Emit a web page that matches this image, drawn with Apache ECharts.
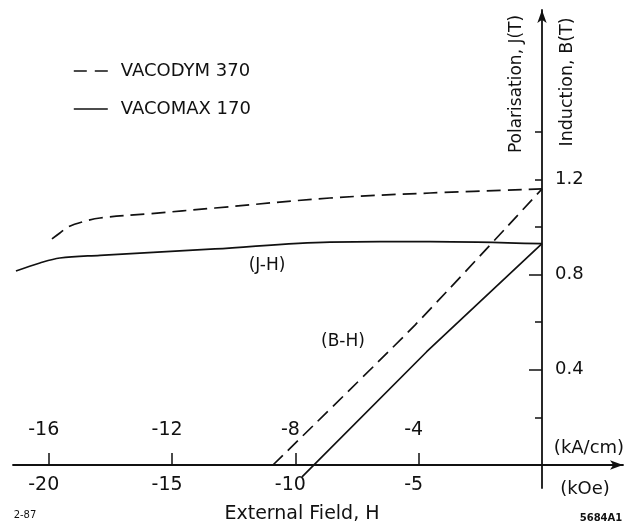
<!DOCTYPE html>
<html><head><meta charset="utf-8">
<script src="https://cdn.jsdelivr.net/npm/echarts@6/dist/echarts.min.js"></script>
<style>html,body{margin:0;padding:0;background:#fff}#c{width:636px;height:525px}</style>
</head><body><div id="c"></div>
<script>
// ---- data (H in kOe, J/B in T) ----
const vacodymJH_H = [-19.87, -19.55, -19.22, -18.65, -17.92, -15.90, -13.26, -8.60, -4.54, 0];
const vacodymJH_J = [0.950, 0.975, 1.000, 1.021, 1.038, 1.056, 1.080, 1.122, 1.143, 1.160];
const vacodymBH_H = [-10.91, -5.15, 0];
const vacodymBH_B = [0, 0.588, 1.160];
const vacomaxJH_H = [-21.33, -20.36, -19.55, -17.92, -13.26, -8.60, -4.54, 0];
const vacomaxJH_J = [0.815, 0.849, 0.870, 0.881, 0.908, 0.937, 0.939, 0.930];
const vacomaxBH_H = [-9.73, -4.675, 0];
const vacomaxBH_B = [-0.050, 0.476, 0.930];

const kOeTicks = [-20, -15, -10, -5];
const kOeLabels = ['-20', '-15', '-10', '-5'];
const kAcmLabels = ['-16', '-12', '-8', '-4'];
const yMajorTicks = [0.4, 0.8];
const yMinorTicks = [0.2, 0.6, 1.0, 1.2, 1.4];
const yLabelValues = [0.4, 0.8, 1.2];

const xMin = -21.45, xMax = 3.285, yMin = -0.0966, yMax = 1.912;
const W = 636, H = 525, gridL = 13, gridR = 13, gridT = 10, gridB = 37;
const gw = W - gridL - gridR, gh = H - gridT - gridB;
const yAxisOffset = -(0 - xMin) / (xMax - xMin) * gw;
const xAxisOffset = -(0 - yMin) / (yMax - yMin) * gh;

const INK = '#111';
const FONT = 'DejaVu Sans';
const pairs = (a, b) => a.map((v, i) => [v, b[i]]);
const dash = [14, 7];

const chart = echarts.init(document.getElementById('c'), null, {renderer: 'canvas'});
chart.setOption({
  animation: false,
  backgroundColor: '#fff',
  textStyle: {fontFamily: FONT, color: INK},
  grid: {left: gridL, right: gridR, top: gridT, bottom: gridB},
  legend: {
    orient: 'vertical', left: 73, top: 62, padding: 0, itemWidth: 34, itemHeight: 14, itemGap: 20,
    selectedMode: false,
    itemStyle: {opacity: 0},
    data: [
      {name: 'VACODYM 370', lineStyle: {type: [13, 8], width: 1.6, color: INK}, itemStyle: {opacity: 0}},
      {name: 'VACOMAX 170', lineStyle: {type: 'solid', width: 1.6, color: INK}, itemStyle: {opacity: 0}}
    ],
    textStyle: {fontFamily: FONT, fontSize: 18, color: INK, padding: [0, 0, 0, 8]}
  },
  xAxis: [{
    type: 'value', min: xMin, max: xMax, position: 'bottom', offset: xAxisOffset,
    axisLine: {onZero: false, symbol: ['none', 'arrow'], symbolSize: [7, 13], lineStyle: {color: INK, width: 1.8}},
    axisTick: {inside: true, length: 12, customValues: kOeTicks, lineStyle: {color: INK, width: 1.5}},
    axisLabel: {customValues: kOeTicks, margin: 11, fontSize: 19, color: INK, fontFamily: FONT,
      padding: [0, 10, 0, 0],
      formatter: v => kOeLabels[kOeTicks.indexOf(Math.round(v))] || ''},
    splitLine: {show: false}
  }, {
    type: 'value', min: xMin, max: xMax, position: 'bottom', offset: xAxisOffset,
    axisLine: {show: false, onZero: false}, axisTick: {show: false},
    axisLabel: {inside: true, customValues: kOeTicks, margin: 25, fontSize: 19, color: INK, fontFamily: FONT,
      padding: [0, 10, 0, 0],
      formatter: v => kAcmLabels[kOeTicks.indexOf(Math.round(v))] || ''},
    splitLine: {show: false}
  }],
  yAxis: [{
    type: 'value', min: yMin, max: yMax, position: 'left', offset: yAxisOffset,
    axisLine: {onZero: false, symbol: ['none', 'arrow'], symbolSize: [7, 13], lineStyle: {color: INK, width: 1.8}},
    axisTick: {inside: false, length: 13, customValues: yMajorTicks, lineStyle: {color: INK, width: 1.5}},
    axisLabel: {inside: true, customValues: yLabelValues, margin: 13, fontSize: 18, color: INK, fontFamily: FONT,
      formatter: v => v.toFixed(1)},
    splitLine: {show: false}
  }, {
    type: 'value', min: yMin, max: yMax, position: 'left', offset: yAxisOffset,
    axisLine: {show: false, onZero: false},
    axisTick: {inside: false, length: 7, customValues: yMinorTicks, lineStyle: {color: INK, width: 1.5}},
    axisLabel: {show: false}, splitLine: {show: false}
  }],
  series: [
    {name: 'VACODYM 370', type: 'line', color: INK, data: pairs(vacodymJH_H, vacodymJH_J), smooth: 0.35,
      symbol: 'none', silent: true, lineStyle: {color: INK, width: 1.7, type: dash}},
    {name: 'VACOMAX 170', type: 'line', color: INK, data: pairs(vacomaxJH_H, vacomaxJH_J), smooth: 0.35,
      symbol: 'none', silent: true, lineStyle: {color: INK, width: 1.7, type: 'solid'}},
    {name: 'VACODYM 370', type: 'line', color: INK, data: pairs(vacodymBH_H, vacodymBH_B), smooth: 0.2,
      symbol: 'none', silent: true, lineStyle: {color: INK, width: 1.7, type: dash}},
    {name: 'VACOMAX 170', type: 'line', color: INK, data: pairs(vacomaxBH_H, vacomaxBH_B),
      symbol: 'none', silent: true, clip: false, lineStyle: {color: INK, width: 1.7, type: 'solid'}}
  ],
  graphic: [
    {type: 'text', x: 517, y: 84, rotation: Math.PI / 2,
      style: {text: 'Polarisation, J(T)', fill: INK, font: '17px "DejaVu Sans"', align: 'center', verticalAlign: 'middle'}},
    {type: 'text', x: 567, y: 82, rotation: Math.PI / 2,
      style: {text: 'Induction, B(T)', fill: INK, font: '17.5px "DejaVu Sans"', align: 'center', verticalAlign: 'middle'}},
    {type: 'text', x: 589, y: 448,
      style: {text: '(kA/cm)', fill: INK, font: '18px "DejaVu Sans"', align: 'center', verticalAlign: 'middle'}},
    {type: 'text', x: 585, y: 489,
      style: {text: '(kOe)', fill: INK, font: '18px "DejaVu Sans"', align: 'center', verticalAlign: 'middle'}},
    {type: 'text', x: 302, y: 514,
      style: {text: 'External Field, H', fill: INK, font: '19px "DejaVu Sans"', align: 'center', verticalAlign: 'middle'}},
    {type: 'text', x: 267, y: 266,
      style: {text: '(J-H)', fill: INK, font: '17px "DejaVu Sans"', align: 'center', verticalAlign: 'middle'}},
    {type: 'text', x: 343, y: 342,
      style: {text: '(B-H)', fill: INK, font: '17px "DejaVu Sans"', align: 'center', verticalAlign: 'middle'}},
    {type: 'text', x: 25, y: 515,
      style: {text: '2-87', fill: INK, font: '10px "DejaVu Sans"', align: 'center', verticalAlign: 'middle'}},
    {type: 'text', x: 601, y: 518,
      style: {text: '5684A1', fill: INK, font: 'bold 10px "DejaVu Sans"', align: 'center', verticalAlign: 'middle'}}
  ]
});
</script>
</body></html>
